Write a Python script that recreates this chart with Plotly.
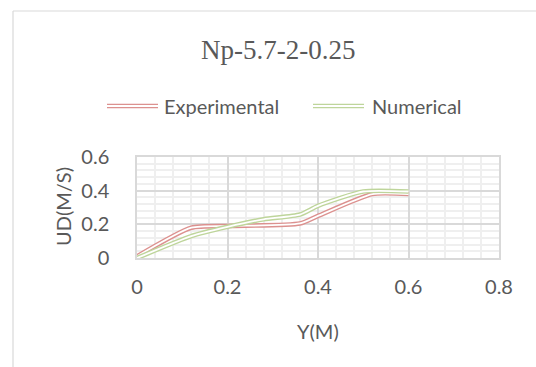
import plotly.graph_objects as go

# ---- data ----
exp_x = [0, 0.12, 0.2, 0.36, 0.4, 0.52, 0.6]
exp_y = [0.01, 0.18, 0.19, 0.205, 0.25, 0.38, 0.38]
num_x = [0, 0.12, 0.2, 0.28, 0.36, 0.4, 0.5, 0.6]
num_y = [0, 0.13, 0.185, 0.23, 0.258, 0.31, 0.395, 0.395]
x_ticks = [0, 0.2, 0.4, 0.6, 0.8]
y_ticks = [0, 0.2, 0.4, 0.6]
title_text = "Np-5.7-2-0.25"
series_names = ["Experimental", "Numerical"]

# ---- geometry ----
W, H = 536, 367
L, R, T, B = 137, 37, 157, 109
PW, PH = W - L - R, H - T - B

def px(x):
    return (x - L) / PW

def py(y):
    return (H - B - y) / PH

RED = "#DC918F"
GREEN = "#BED59B"
GRAY = "#595959"
FONT = "Lato"

fig = go.Figure()
for xs, ys, col, name in [(exp_x, exp_y, RED, series_names[0]), (num_x, num_y, GREEN, series_names[1])]:
    fig.add_trace(go.Scatter(x=xs, y=ys, mode="lines", name=name, showlegend=False,
                             line=dict(color=col, width=4.6, shape="spline", smoothing=0.6)))
    fig.add_trace(go.Scatter(x=xs, y=ys, mode="lines", showlegend=False, hoverinfo="skip",
                             line=dict(color="white", width=1.8, shape="spline", smoothing=0.6)))

axis_common = dict(
    showgrid=True, gridcolor="#D9D9D9", gridwidth=1.5,
    zeroline=False, showline=True, mirror=True, linecolor="#D9D9D9", linewidth=1.5,
    tickfont=dict(family=FONT, size=20, color=GRAY), ticks="",
)
fig.update_xaxes(range=[0, 0.8], tickvals=x_ticks, ticktext=[f"{v:g}" for v in x_ticks],
                 minor=dict(dtick=0.04, tick0=0, showgrid=True, gridcolor="#EFEFEF", gridwidth=1.5),
                 ticklabelstandoff=10, **axis_common)
fig.update_yaxes(range=[0, 0.6], tickvals=y_ticks, ticktext=[f"{v:g}" for v in y_ticks],
                 minor=dict(dtick=0.04, tick0=0, showgrid=True, gridcolor="#EFEFEF", gridwidth=1.5),
                 ticklabelstandoff=22, **axis_common)

def text_ann(text, x, y, size=20, family=FONT, xanchor="center", angle=0):
    return dict(text=text, x=px(x), y=py(y), xref="paper", yref="paper", xanchor=xanchor,
                yanchor="middle", textangle=angle, showarrow=False,
                font=dict(family=family, size=size, color=GRAY))

ann = [
    text_ann(title_text, 278, 50, size=27, family="Liberation Serif"),
    text_ann("Y(M)", 318, 331),
    text_ann("UD(M/S)", 63, 207, angle=-90),
]
# legend (manual)
leg_y = 106
ann.append(text_ann(series_names[0], 281, leg_y, xanchor="right"))
ann.append(text_ann(series_names[1], 370, leg_y, xanchor="left"))

shapes = []
for (x0, x1, col) in [(107, 158, RED), (313, 364, GREEN)]:
    shapes.append(dict(type="line", xref="paper", yref="paper", x0=px(x0), x1=px(x1), y0=py(leg_y), y1=py(leg_y),
                       line=dict(color=col, width=4.6)))
    shapes.append(dict(type="line", xref="paper", yref="paper", x0=px(x0), x1=px(x1), y0=py(leg_y), y1=py(leg_y),
                       line=dict(color="white", width=1.8)))
# outer frame (partially visible)
shapes.append(dict(type="line", xref="paper", yref="paper", x0=px(13), x1=px(W + 5), y0=py(11), y1=py(11),
                   line=dict(color="#D9D9D9", width=1.2)))
shapes.append(dict(type="line", xref="paper", yref="paper", x0=px(13), x1=px(13), y0=py(11), y1=py(H + 5),
                   line=dict(color="#D9D9D9", width=1.2)))

fig.update_layout(width=W, height=H, margin=dict(l=L, r=R, t=T, b=B),
                  paper_bgcolor="white", plot_bgcolor="white",
                  annotations=ann, shapes=shapes, showlegend=False)
fig.write_html("out.html")
